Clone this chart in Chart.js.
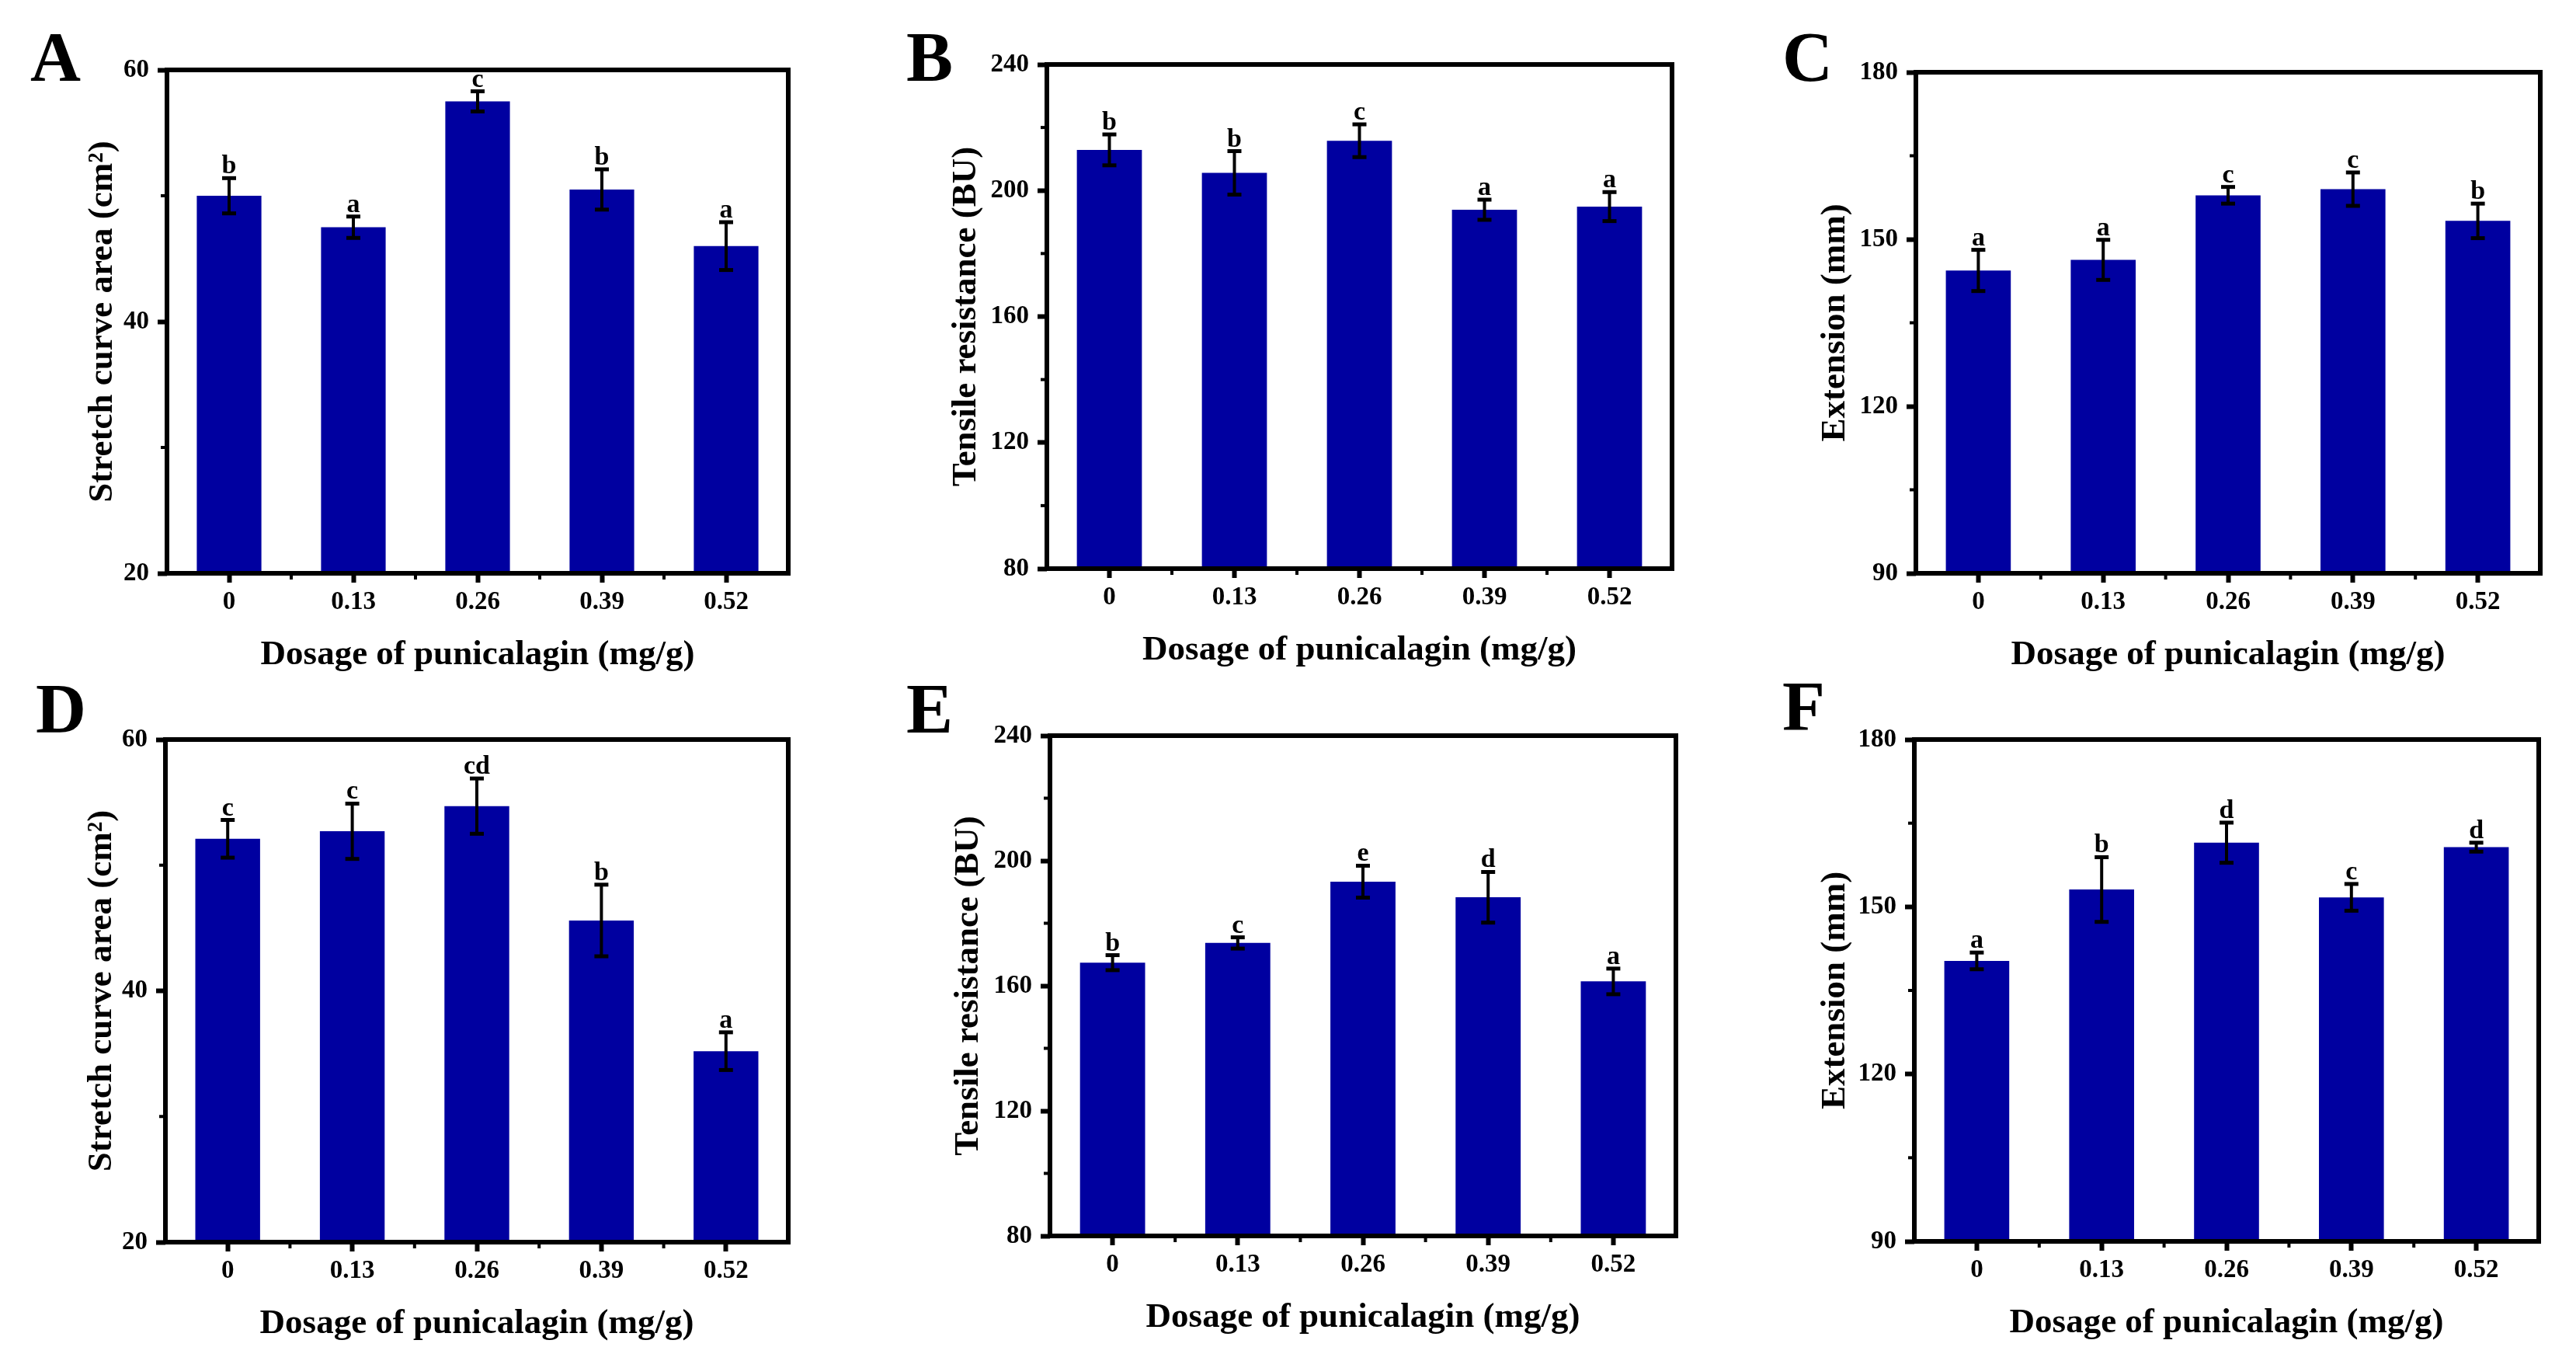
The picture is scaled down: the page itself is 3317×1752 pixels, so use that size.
<!DOCTYPE html>
<html>
<head>
<meta charset="utf-8">
<script src="https://cdn.jsdelivr.net/npm/chart.js@4.4.0/dist/chart.umd.min.js"></script>
<style>
  html, body { margin: 0; padding: 0; background: #ffffff; }
  body { width: 3317px; height: 1752px; position: relative; overflow: hidden; }
  canvas { position: absolute; }
</style>
</head>
<body>
<script>
// ---------------- DATA ----------------
const categories = ['0', '0.13', '0.26', '0.39', '0.52'];

const areaA   = [50.0, 47.5, 57.5, 50.5, 46.0];
const areaErrA = [1.4, 0.85, 0.8, 1.6, 1.9];
const groupsA = ['b', 'a', 'c', 'b', 'a'];

const resistB   = [212.9, 205.6, 215.8, 193.9, 194.9];
const resistErrB = [4.9, 6.9, 5.2, 3.2, 4.6];
const groupsB = ['b', 'b', 'c', 'a', 'a'];

const extC   = [144.4, 146.3, 157.9, 159.0, 153.3];
const extErrC = [3.7, 3.6, 1.5, 3.0, 3.1];
const groupsC = ['a', 'a', 'c', 'c', 'b'];

const areaD   = [52.1, 52.7, 54.7, 45.6, 35.2];
const areaErrD = [1.5, 2.2, 2.2, 2.85, 1.5];
const groupsD = ['c', 'c', 'cd', 'b', 'a'];

const resistE   = [167.4, 173.7, 193.3, 188.3, 161.4];
const resistErrE = [2.4, 1.8, 5.1, 8.1, 4.1];
const groupsE = ['b', 'c', 'e', 'd', 'a'];

const extF   = [140.3, 153.1, 161.5, 151.7, 160.7];
const extErrF = [1.5, 5.8, 3.6, 2.4, 0.8];
const groupsF = ['a', 'b', 'd', 'c', 'd'];

const yTicksArea = [20, 40, 60];
const yTicksResist = [80, 120, 160, 200, 240];
const yTicksExt = [90, 120, 150, 180];

const xTitle = 'Dosage of punicalagin (mg/g)';
const yTitleArea = 'Stretch curve area (cm\u00B2)';
const yTitleResist = 'Tensile resistance (BU)';
const yTitleExt = 'Extension (mm)';

// ---------------- LAYOUT / STYLE ----------------
const FONT = "'Liberation Serif', 'Times New Roman', serif";
const BAR_COLOR = '#0000A0';
const WY = 200, HX = 140, PAD_TOP = 100, PAD_RIGHT = 12;
const TITLE_SIZE = 45, TICK_SIZE = 33, GROUP_SIZE = 34, LETTER_SIZE = 90;

const panels = [
  { letter: 'A', values: areaA, errors: areaErrA, groups: groupsA, yTicks: yTicksArea, yTitle: yTitleArea,
    box: { left: 215, top: 90, width: 800, height: 648 }, titleOff: 83, letterPos: [39, 104] },
  { letter: 'B', values: resistB, errors: resistErrB, groups: groupsB, yTicks: yTicksResist, yTitle: yTitleResist,
    box: { left: 1348, top: 83, width: 805, height: 649 }, titleOff: 104, letterPos: [1167, 104] },
  { letter: 'C', values: extC, errors: extErrC, groups: groupsC, yTicks: yTicksExt, yTitle: yTitleExt,
    box: { left: 2467, top: 93, width: 804, height: 645 }, titleOff: 104, letterPos: [2295, 104] },
  { letter: 'D', values: areaD, errors: areaErrD, groups: groupsD, yTicks: yTicksArea, yTitle: yTitleArea,
    box: { left: 213, top: 952, width: 802, height: 647 }, titleOff: 82, letterPos: [46, 943] },
  { letter: 'E', values: resistE, errors: resistErrE, groups: groupsE, yTicks: yTicksResist, yTitle: yTitleResist,
    box: { left: 1352, top: 947, width: 806, height: 644 }, titleOff: 105, letterPos: [1167, 943] },
  { letter: 'F', values: extF, errors: extErrF, groups: groupsF, yTicks: yTicksExt, yTitle: yTitleExt,
    box: { left: 2465, top: 952, width: 804, height: 646 }, titleOff: 102, letterPos: [2295, 940] }
];

function line(ctx, x1, y1, x2, y2) {
  ctx.beginPath(); ctx.moveTo(x1, y1); ctx.lineTo(x2, y2); ctx.stroke();
}

function makeDecor(p, canvasLeft, canvasTop) {
  return {
    id: 'decor' + p.letter,
    afterDatasetsDraw(chart) {
      const { ctx, scales: { x, y } } = chart;
      ctx.save();
      ctx.strokeStyle = '#000';
      ctx.fillStyle = '#000';
      p.values.forEach((v, i) => {
        const cx = x.getPixelForValue(i);
        const yt = y.getPixelForValue(v + p.errors[i]);
        const yb = y.getPixelForValue(v - p.errors[i]);
        ctx.lineWidth = 4;
        line(ctx, cx, yt, cx, yb);
        ctx.lineWidth = 5;
        line(ctx, cx - 9, yt, cx + 9, yt);
        line(ctx, cx - 9, yb, cx + 9, yb);
        ctx.font = 'bold ' + GROUP_SIZE + 'px ' + FONT;
        ctx.textAlign = 'center';
        ctx.textBaseline = 'alphabetic';
        ctx.fillText(p.groups[i], cx, yt - 6);
      });
      ctx.restore();
    },
    afterDraw(chart) {
      const { ctx, chartArea: a, scales: { x, y } } = chart;
      ctx.save();
      ctx.strokeStyle = '#000';
      // frame
      ctx.lineWidth = 6;
      ctx.strokeRect(a.left, a.top, a.right - a.left, a.bottom - a.top);
      // minor ticks
      ctx.lineWidth = 4;
      for (let k = 0; k < p.yTicks.length - 1; k++) {
        const py = y.getPixelForValue((p.yTicks[k] + p.yTicks[k + 1]) / 2);
        line(ctx, a.left - 8, py, a.left, py);
      }
      for (let i = 0; i < categories.length - 1; i++) {
        const px = x.getPixelForValue(i + 0.5);
        line(ctx, px, a.bottom, px, a.bottom + 8);
      }
      // panel letter
      ctx.fillStyle = '#000';
      ctx.font = 'bold ' + LETTER_SIZE + 'px ' + FONT;
      ctx.textAlign = 'left';
      ctx.textBaseline = 'alphabetic';
      ctx.fillText(p.letter, p.letterPos[0] - canvasLeft, p.letterPos[1] - canvasTop);
      ctx.restore();
    }
  };
}

panels.forEach(p => {
  const cLeft = p.box.left - WY;
  const cTop = p.box.top - PAD_TOP;
  const cW = WY + p.box.width + PAD_RIGHT;
  const cH = PAD_TOP + p.box.height + HX;
  const cv = document.createElement('canvas');
  cv.width = cW; cv.height = cH;
  cv.style.left = cLeft + 'px'; cv.style.top = cTop + 'px';
  cv.style.width = cW + 'px'; cv.style.height = cH + 'px';
  document.body.appendChild(cv);

  const tickFont = { family: FONT, size: TICK_SIZE, weight: 'bold' };
  const titleFont = { family: FONT, size: TITLE_SIZE, weight: 'bold' };

  new Chart(cv, {
    type: 'bar',
    data: {
      labels: categories,
      datasets: [{
        data: p.values,
        backgroundColor: BAR_COLOR,
        borderWidth: 0,
        barPercentage: 0.52,
        categoryPercentage: 1.0
      }]
    },
    options: {
      responsive: false,
      animation: false,
      devicePixelRatio: 1,
      layout: { padding: { top: PAD_TOP, right: PAD_RIGHT, left: 0, bottom: 0 } },
      plugins: { legend: { display: false }, tooltip: { enabled: false } },
      scales: {
        x: {
          grid: { display: true, offset: false, drawOnChartArea: false, drawTicks: true,
                  tickLength: 12, tickWidth: 6, tickColor: '#000' },
          border: { display: false },
          ticks: { font: tickFont, color: '#000', padding: 6, maxRotation: 0, autoSkip: false },
          title: { display: true, text: xTitle, font: titleFont, color: '#000', padding: { top: 0, bottom: 8 } },
          afterFit(s) { s.height = HX; }
        },
        y: {
          min: p.yTicks[0],
          max: p.yTicks[p.yTicks.length - 1],
          grid: { display: true, drawOnChartArea: false, drawTicks: true,
                  tickLength: 12, tickWidth: 6, tickColor: '#000' },
          border: { display: false },
          ticks: { font: tickFont, color: '#000', padding: 11, stepSize: p.yTicks[1] - p.yTicks[0] },
          title: { display: true, text: p.yTitle, font: titleFont, color: '#000',
                   padding: { top: WY - p.titleOff - TITLE_SIZE * 0.6, bottom: 0 } },
          afterFit(s) { s.width = WY; }
        }
      }
    },
    plugins: [makeDecor(p, cLeft, cTop)]
  });
});
</script>
</body>
</html>
